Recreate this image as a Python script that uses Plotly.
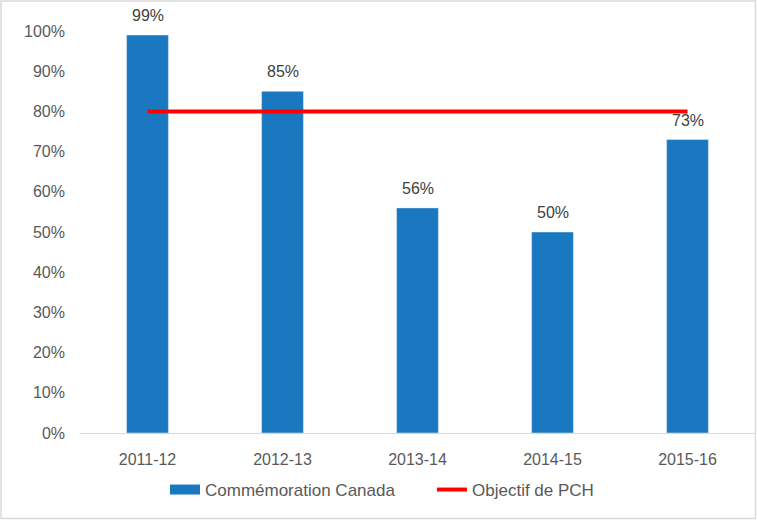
import plotly.graph_objects as go

categories = ["2011-12", "2012-13", "2013-14", "2014-15", "2015-16"]
values = [0.99, 0.85, 0.56, 0.50, 0.73]
target = [0.80, 0.80, 0.80, 0.80, 0.80]
labels = ["99%", "85%", "56%", "50%", "73%"]
yticks = [i / 10 for i in range(11)]
yticklabels = [f"{i*10}%" for i in range(11)]

FONT = "Liberation Sans"
BLUE = "#1a78c0"
fig = go.Figure()
fig.add_trace(go.Bar(
    x=categories, y=values, name="Commémoration Canada",
    marker_color=BLUE, width=0.31, showlegend=False,
))
fig.add_trace(go.Scatter(
    x=categories, y=target, name="Objectif de PCH", mode="lines",
    line=dict(color="#ff0000", width=4), showlegend=False,
))
# legend proxies
fig.add_trace(go.Scatter(
    x=[None], y=[None], name="Commémoration Canada", mode="lines",
    line=dict(color=BLUE, width=10),
))
fig.add_trace(go.Scatter(
    x=[None], y=[None], name="Objectif de PCH", mode="lines",
    line=dict(color="#ff0000", width=4),
))
for c, v, t in zip(categories, values, labels):
    fig.add_annotation(x=c, y=v, text=t, showarrow=False, yanchor="bottom",
                       yshift=9, font=dict(family=FONT, size=16, color="#404040"))

W, H = 757, 520
ml, mr, mt, mb = 80, 2, 31, 87
pw, ph = W - ml - mr, H - mt - mb
fig.update_layout(
    width=W, height=H,
    margin=dict(l=ml, r=mr, t=mt, b=mb, autoexpand=False),
    paper_bgcolor="white", plot_bgcolor="rgba(0,0,0,0)",
    font=dict(family=FONT, size=16, color="#595959"),
    showlegend=True,
    legend=dict(orientation="h", x=(165 - ml) / pw, xanchor="left", y=-0.097, yanchor="top",
                font=dict(family=FONT, size=17, color="#595959"),
                entrywidth=222, entrywidthmode="pixels",
                traceorder="normal", tracegroupgap=0),
    xaxis=dict(type="category", showline=True, linecolor="#d9d9d9", linewidth=1, ticks="",
               showgrid=False, tickfont=dict(size=16, color="#595959"),
               ticklabelstandoff=12, automargin=False),
    yaxis=dict(range=[0, 1], tickvals=yticks, ticktext=yticklabels,
               showgrid=False, showline=False, zeroline=False, ticks="",
               tickfont=dict(size=16, color="#595959"), ticklabelstandoff=14,
               automargin=False),
    shapes=[dict(type="rect", xref="paper", yref="paper",
                 x0=(1 - ml) / pw, x1=(W - 1.5 - ml) / pw,
                 y0=-(H - 1.5 - mt - ph) / ph, y1=1 + (mt - 1) / ph,
                 line=dict(color="#d9d9d9", width=1.5), layer="below")],
)
fig.write_html("out.html", config={"displayModeBar": False},
               post_script="document.body.style.margin='0';document.body.style.overflow='hidden';")
